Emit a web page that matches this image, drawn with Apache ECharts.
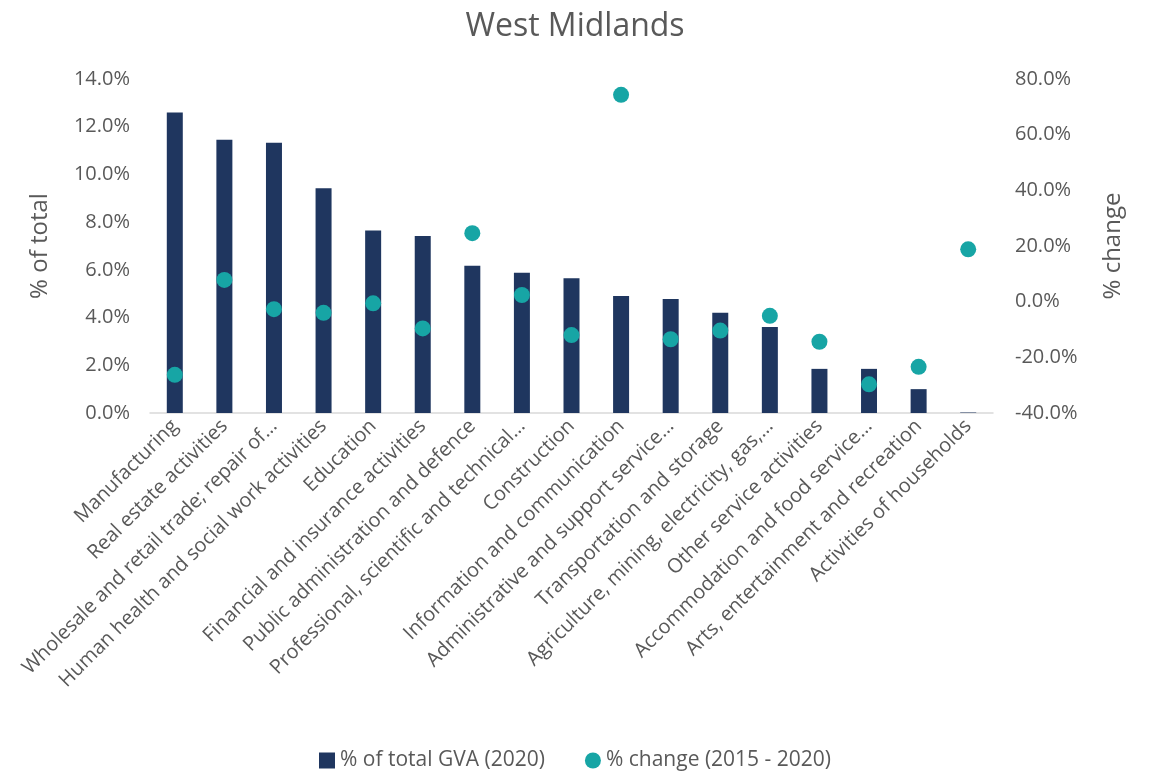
<!DOCTYPE html>
<html>
<head>
<meta charset="utf-8">
<script src="https://cdn.jsdelivr.net/npm/echarts@6/dist/echarts.min.js"></script>
<style>
  html, body { margin: 0; padding: 0; background: #fff; }
  #chart { width: 1150px; height: 778px; }
</style>
</head>
<body>
<div id="chart"></div>
<script>
// categories (labels as shown, already truncated in the source)
const categories = [
  'Manufacturing',
  'Real estate activities',
  'Wholesale and retail trade; repair of…',
  'Human health and social work activities',
  'Education',
  'Financial and insurance activities',
  'Public administration and defence',
  'Professional, scientific and technical…',
  'Construction',
  'Information and communication',
  'Administrative and support service…',
  'Transportation and storage',
  'Agriculture, mining, electricity, gas,…',
  'Other service activities',
  'Accommodation and food service…',
  'Arts, entertainment and recreation',
  'Activities of households'
]

// % of total GVA (2020)
const shareOfTotal = [12.6, 11.45, 11.33, 9.42, 7.65, 7.42, 6.17, 5.88, 5.65, 4.9, 4.78, 4.2, 3.6, 1.85, 1.85, 1.0, 0.02]

// % change (2015 - 2020)
const pctChange = [-26.3, 7.8, -2.7, -4.0, -0.6, -9.6, 24.6, 2.4, -12.0, 74.3, -13.5, -10.4, -5.1, -14.4, -29.7, -23.4, 18.8]

const leftTicks = { min: 0, max: 14, interval: 2 }
const rightTicks = { min: -40, max: 80, interval: 20 }

const textColor = '#595959'
const fontFamily = 'Open Sans, Noto Sans, sans-serif'

const chart = echarts.init(document.getElementById('chart'))

const option = {
  backgroundColor: '#fff',
  animation: false,
  textStyle: { fontFamily: fontFamily, color: textColor },
  title: {
    text: 'West Midlands',
    left: 'center',
    top: 6,
    textStyle: { fontSize: 32, fontWeight: 'normal', color: textColor, fontFamily: fontFamily }
  },
  legend: {
    bottom: 2,
    left: 'center',
    itemGap: 40,
    itemWidth: 16,
    itemHeight: 16,
    textStyle: { fontSize: 21, color: textColor },
    data: [
      { name: '% of total GVA (2020)', icon: 'rect' },
      { name: '% change (2015 - 2020)', icon: 'circle' }
    ]
  },
  grid: {
    left: 150,
    right: 157,
    top: 79,
    bottom: 365
  },
  xAxis: {
    type: 'category',
    data: categories,
    axisLine: { lineStyle: { color: '#d9d9d9', width: 1.5 } },
    axisTick: { show: false },
    axisLabel: {
      interval: 0,
      rotate: 45,
      fontSize: 20,
      color: textColor,
      margin: 10
    }
  },
  yAxis: [
    {
      type: 'value',
      min: leftTicks.min,
      max: leftTicks.max,
      interval: leftTicks.interval,
      name: '% of total',
      nameLocation: 'middle',
      nameGap: 98,
      nameTextStyle: { fontSize: 24, color: textColor },
      axisLine: { show: false },
      axisTick: { show: false },
      splitLine: { show: false },
      axisLabel: {
        fontSize: 20,
        color: textColor,
        margin: 20,
        formatter: v => v.toFixed(1) + '%'
      }
    },
    {
      type: 'value',
      min: rightTicks.min,
      max: rightTicks.max,
      interval: rightTicks.interval,
      name: '% change',
      nameLocation: 'middle',
      nameGap: 108,
      nameRotate: 90,
      nameTextStyle: { fontSize: 24, color: textColor },
      axisLine: { show: false },
      axisTick: { show: false },
      splitLine: { show: false },
      axisLabel: {
        fontSize: 20,
        color: textColor,
        margin: 22,
        formatter: v => v.toFixed(1) + '%'
      }
    }
  ],
  series: [
    {
      name: '% of total GVA (2020)',
      type: 'bar',
      yAxisIndex: 0,
      data: shareOfTotal,
      barWidth: 16,
      itemStyle: { color: '#1f365f' }
    },
    {
      name: '% change (2015 - 2020)',
      type: 'scatter',
      yAxisIndex: 1,
      data: pctChange,
      symbol: 'circle',
      symbolSize: 16,
      itemStyle: { color: '#17a5a5', opacity: 1 },
      z: 3
    }
  ]
}

chart.setOption(option)
</script>
</body>
</html>
